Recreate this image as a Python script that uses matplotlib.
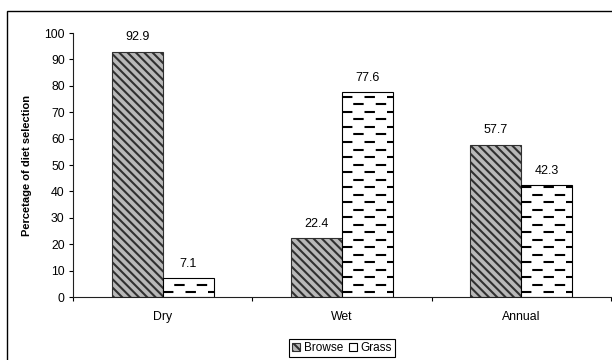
import numpy as np
import matplotlib
matplotlib.use('Agg')
from matplotlib import pyplot as plt
from matplotlib.patches import Rectangle

plt.rcParams['font.family'] = ['Liberation Sans', 'DejaVu Sans']
plt.rcParams['hatch.linewidth'] = 1.5

seasons = ['Dry', 'Wet', 'Annual']
browse = [92.9, 22.4, 57.7]
grass = [7.1, 77.6, 42.3]
yticks = list(range(0, 101, 10))

fig = plt.figure(figsize=(6.12, 3.6), dpi=100)
ax = fig.add_axes([73 / 612, 1 - 297 / 360, 538 / 612, 264 / 360])

# outer frame (cropped at right and bottom in the original)
fig.patches.append(Rectangle((7 / 612, -0.1), 1.2, 1 - 11 / 360 + 0.1,
                             transform=fig.transFigure, fill=False,
                             edgecolor='black', linewidth=1.0, zorder=0))

x = np.arange(len(seasons))
w = 0.285
b1 = ax.bar(x - w / 2, browse, w, color='#b8b8b8', edgecolor='#303030',
            hatch='\\\\\\\\', linewidth=0.8, label='Browse')
b2 = ax.bar(x + w / 2, grass, w, color='white', edgecolor='black',
            linewidth=0.8, label='Grass')

# staggered dashes inside grass bars
step = 2.85
for bar in b2:
    x0, x1 = bar.get_x(), bar.get_x() + bar.get_width()
    h = bar.get_height()
    for i, yy in enumerate(np.arange(step * 0.6, h, step)):
        off = 0 if i % 2 == 0 else 5.4
        ln, = ax.plot([x0, x1], [yy, yy], color='black', linewidth=1.5,
                      linestyle=(off, (5.0, 5.8)))
        ln.set_dash_capstyle('butt')
        ln.set_clip_path(bar)

for bars in (b1, b2):
    for bar in bars:
        ax.annotate(f'{bar.get_height():.1f}',
                    (bar.get_x() + bar.get_width() / 2, bar.get_height()),
                    xytext=(0, 6), textcoords='offset points',
                    ha='center', va='bottom', fontsize=9)

ax.set_xlim(-0.5, 2.5)
ax.set_ylim(0, 100)
ax.set_yticks(yticks)
ax.set_xticks(x)
ax.set_xticklabels(seasons)
ax.set_xticks([-0.5, 0.5, 1.5, 2.5], minor=True)
ax.tick_params(axis='x', which='major', length=0, pad=10, labelsize=8.8)
ax.tick_params(axis='x', which='minor', length=3, direction='out', width=0.8)
ax.tick_params(axis='y', length=3, width=0.8, labelsize=8.8, pad=3)
ax.spines['top'].set_visible(False)
ax.spines['right'].set_visible(False)
for s in ('left', 'bottom'):
    ax.spines[s].set_linewidth(0.8)
    ax.spines[s].set_color('#202020')
ax.set_ylabel('Percetage of diet selection', fontsize=8, fontweight='bold',
              labelpad=9)

leg = fig.legend(handles=[b1, b2], labels=['Browse', 'Grass'], loc='center',
                 bbox_to_anchor=(342 / 612, 1 - 348 / 360), ncol=2,
                 fontsize=8.5, handlelength=0.7, handleheight=0.7,
                 handletextpad=0.3, columnspacing=0.5, borderpad=0.25,
                 fancybox=False, framealpha=1, edgecolor='black')
leg.get_frame().set_linewidth(0.8)

fig.savefig('out.png', dpi=100)
